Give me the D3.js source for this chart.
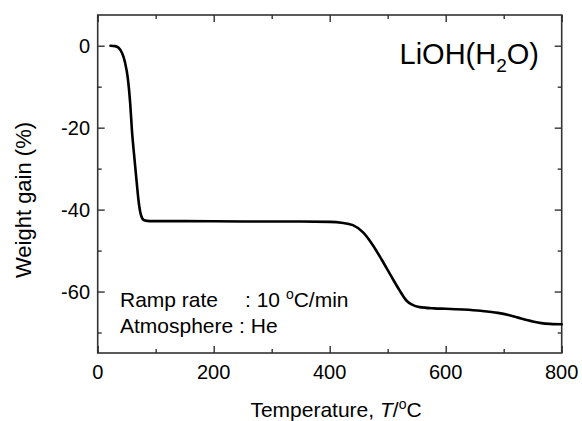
<!DOCTYPE html>
<html><head><meta charset="utf-8">
<script src="https://cdn.jsdelivr.net/npm/d3@7"></script>
<style>
body{margin:0;background:#fff;}
text{font-family:"Liberation Sans",Arial,sans-serif;fill:#000;}
</style></head>
<body><svg id="c" width="582" height="421"></svg>
<script>
const temperature = [22, 30, 36, 42, 47, 52, 56, 59, 63, 67, 71, 75, 80, 90, 150, 250, 350, 400, 420, 440, 458, 475, 490, 505, 520, 533, 542, 555, 580, 600, 630, 660, 690, 710, 730, 750, 765, 780, 800];
const weight = [0, -0.1, -0.5, -1.8, -4, -8, -14, -20.6, -27, -33, -38.5, -41.5, -42.6, -42.8, -42.8, -42.9, -42.9, -43.0, -43.2, -43.8, -45.6, -48.8, -52.3, -56, -59.6, -62.3, -63.2, -63.8, -64.1, -64.2, -64.4, -64.7, -65.2, -65.8, -66.6, -67.3, -67.7, -67.9, -68.0];
const xMajor = [0, 200, 400, 600, 800];
const xMinor = [100, 300, 500, 700];
const yMajor = [0, -20, -40, -60];
const yMinor = [-10, -30, -50, -70];

const svg = d3.select("#c");
const L = 97.7, R = 561.7, T = 15, B = 353;
const x = d3.scaleLinear().domain([0, 800]).range([L, R]);
const y = d3.scaleLinear().domain([-75, 7.5]).range([B, T]);
const axisColor = "#333";

// frame
svg.append("rect").attr("x", L).attr("y", T).attr("width", R - L).attr("height", B - T)
  .attr("fill", "none").attr("stroke", axisColor).attr("stroke-width", 1.6);

function ticks(axisGen, tr) {
  const g = svg.append("g").attr("transform", tr).call(axisGen);
  g.select(".domain").remove();
  g.selectAll("text").remove();
  g.selectAll("line").attr("stroke", axisColor).attr("stroke-width", 1.4);
  return g;
}
// bottom
ticks(d3.axisTop(x).tickValues(xMajor).tickSize(7), `translate(0,${B})`);
ticks(d3.axisTop(x).tickValues(xMinor).tickSize(4), `translate(0,${B})`);
// top
ticks(d3.axisBottom(x).tickValues(xMajor).tickSize(7), `translate(0,${T})`);
ticks(d3.axisBottom(x).tickValues(xMinor).tickSize(4), `translate(0,${T})`);
// left
ticks(d3.axisRight(y).tickValues(yMajor).tickSize(7), `translate(${L},0)`);
ticks(d3.axisRight(y).tickValues(yMinor).tickSize(4), `translate(${L},0)`);
// right
ticks(d3.axisLeft(y).tickValues(yMajor).tickSize(7), `translate(${R},0)`);
ticks(d3.axisLeft(y).tickValues(yMinor).tickSize(4), `translate(${R},0)`);

// tick labels
svg.append("g").selectAll("text").data(xMajor).join("text")
  .attr("x", d => x(d)).attr("y", 378.5).attr("text-anchor", "middle")
  .attr("font-size", 20).text(d => d);
svg.append("g").selectAll("text").data(yMajor).join("text")
  .attr("x", 90).attr("y", d => y(d) + 7).attr("text-anchor", "end")
  .attr("font-size", 20).text(d => d);

// axis titles
const xt = svg.append("text").attr("x", 336).attr("y", 417).attr("text-anchor", "middle").attr("font-size", 21);
xt.append("tspan").text("Temperature, ");
xt.append("tspan").attr("font-style", "italic").text("T");
xt.append("tspan").text("/");
xt.append("tspan").attr("font-size", 14).attr("dy", -8).text("o");
xt.append("tspan").attr("dy", 8).text("C");

svg.append("text").attr("transform", "translate(31,200) rotate(-90)")
  .attr("text-anchor", "middle").attr("font-size", 22).text("Weight gain (%)");

// compound label
const cl = svg.append("text").attr("x", 539).attr("y", 64).attr("text-anchor", "end").attr("font-size", 29);
cl.append("tspan").text("LiOH(H");
cl.append("tspan").attr("font-size", 19).attr("dy", 8).text("2");
cl.append("tspan").attr("dy", -8).text("O)");

// annotations
svg.append("text").attr("x", 120).attr("y", 307).attr("font-size", 21).text("Ramp rate");
const rr = svg.append("text").attr("x", 245).attr("y", 307).attr("font-size", 21);
rr.append("tspan").text(": 10 ");
rr.append("tspan").attr("font-size", 14).attr("dy", -8).text("o");
rr.append("tspan").attr("dy", 8).text("C/min");
svg.append("text").attr("x", 120).attr("y", 333).attr("font-size", 21).text("Atmosphere : He");

// curve
const line = d3.line().x((d, i) => x(temperature[i])).y((d, i) => y(weight[i])).curve(d3.curveMonotoneX);
svg.append("path").datum(weight).attr("d", line)
  .attr("fill", "none").attr("stroke", "#000").attr("stroke-width", 2.6)
  .attr("stroke-linejoin", "round").attr("stroke-linecap", "round");
</script></body></html>
